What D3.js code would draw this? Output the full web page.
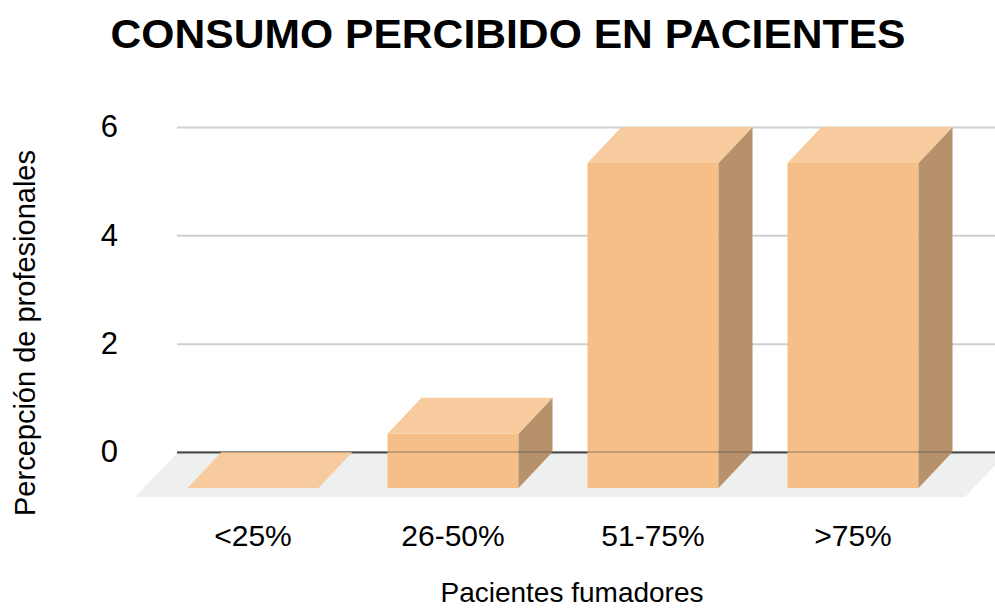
<html>
  <head>
    <meta charset="utf-8" />
    <script src="https://cdn.jsdelivr.net/npm/d3@7"></script>
    <style>
      body { margin: 0; background: #fff; }
      text { font-family: "Liberation Sans", Arial, sans-serif; fill: #000; }
    </style>
  </head>
  <body>
    <div id="container"></div>
    <script>
      const categories = ["<25%", "26-50%", "51-75%", ">75%"];
      const values = [0, 1, 6, 6];
      const yTicks = [0, 2, 4, 6];
      const title = "CONSUMO PERCIBIDO EN PACIENTES";
      const xTitle = "Pacientes fumadores";
      const yTitle = "Percepción de profesionales";

      const W = 995, H = 608;
      const plotLeft = 177, plotRight = 995;
      const depthX = 34, depthY = 36; // 3d offset of bars

      const svg = d3.select("#container").append("svg")
        .attr("width", W).attr("height", H);

      // y scale lives in the back plane
      const y = d3.scaleLinear().domain([0, 6]).range([452, 127]);
      // x band scale lives in the front plane
      const x = d3.scaleBand().domain(categories)
        .range([153, 953]).paddingInner(0.345).paddingOuter(0.1725);

      // floor
      const fy0 = y(0) + 1, fy1 = y(0) + 45;
      svg.append("polygon")
        .attr("points", [[135, fy1], [965, fy1], [1007, fy0], [plotLeft, fy0]].map(p => p.join(",")).join(" "))
        .attr("fill", "#eef0ef");

      // y axis + grid
      const yAxis = d3.axisLeft(y).tickValues(yTicks).tickFormat(d3.format("d"))
        .tickSizeInner(-(plotRight - plotLeft)).tickSizeOuter(0).tickPadding(59);
      const yg = svg.append("g").attr("transform", `translate(${plotLeft},0)`).call(yAxis);
      yg.select(".domain").remove();
      yg.selectAll(".tick line").attr("stroke", "#d0d0d0").attr("stroke-width", 2)
        .filter(d => d === 0).attr("stroke", "#4a4a4a");
      yg.selectAll(".tick text").style("font-size", "31px").attr("fill", "#000");

      // bars
      const bars = svg.append("g").selectAll("g").data(values).enter().append("g");
      bars.each(function (v, i) {
        const g = d3.select(this);
        const x0 = x(categories[i]), x1 = x0 + x.bandwidth();
        const yt = y(v) + depthY, yb = y(0) + depthY;
        const pts = a => a.map(p => p.join(",")).join(" ");
        if (v > 0) {
          g.append("polygon").attr("points", pts([[x0, yt], [x1, yt], [x1, yb], [x0, yb]]))
            .attr("fill", "#f5bf87");
          g.append("polygon").attr("points", pts([[x1, yt], [x1 + depthX, yt - depthY], [x1 + depthX, yb - depthY], [x1, yb]]))
            .attr("fill", "#b6916b");
        }
        g.append("polygon").attr("points", pts([[x0, yt], [x1, yt], [x1 + depthX, yt - depthY], [x0 + depthX, yt - depthY]]))
          .attr("fill", "#f7cb9d");
      });

      // zero line showing faintly through the bars
      svg.append("line").attr("x1", plotLeft).attr("x2", plotRight)
        .attr("y1", y(0)).attr("y2", y(0))
        .attr("stroke", "#4a4a4a").attr("stroke-width", 2).attr("stroke-opacity", 0.3);

      // x axis labels
      const xAxis = d3.axisBottom(x).tickSize(0).tickPadding(37);
      const xg = svg.append("g").attr("transform", `translate(0,${y(0) + depthY})`).call(xAxis);
      xg.select(".domain").remove();
      xg.selectAll(".tick text").style("font-size", "30px").attr("fill", "#000");

      // titles
      svg.append("text").attr("x", 508).attr("y", 48).attr("text-anchor", "middle")
        .attr("textLength", 795).attr("lengthAdjust", "spacingAndGlyphs")
        .style("font-size", "40px").style("font-weight", "bold").text(title);
      svg.append("text").attr("x", 572).attr("y", 602).attr("text-anchor", "middle")
        .style("font-size", "28px").text(xTitle);
      svg.append("text").attr("transform", "translate(35,333) rotate(-90)")
        .attr("text-anchor", "middle").style("font-size", "29px").text(yTitle);
    </script>
  </body>
</html>
